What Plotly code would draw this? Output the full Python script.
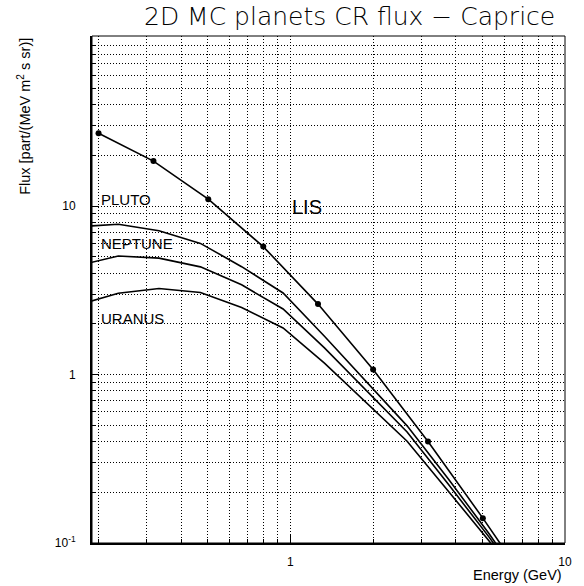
import plotly.graph_objects as go

# ---- data ----
energy_lis = [0.2, 0.317, 0.502, 0.796, 1.26, 2.0, 3.17, 5.02, 7.96]
flux_lis = [27.1, 18.5, 11.0, 5.75, 2.62, 1.07, 0.401, 0.1405, 0.047]

energy_planet = [0.167, 0.236, 0.332, 0.47, 0.664, 0.94, 1.33, 1.88, 2.66, 3.76, 5.3, 7.5]
flux_pluto = [7.53, 7.81, 7.15, 6.01, 4.37, 3.05, 1.69, 0.918, 0.496, 0.240, 0.113, 0.050]
flux_neptune = [4.42, 5.06, 4.91, 4.36, 3.41, 2.45, 1.44, 0.812, 0.456, 0.223, 0.108, 0.0486]
flux_uranus = [2.58, 3.04, 3.24, 3.07, 2.50, 1.89, 1.17, 0.689, 0.402, 0.203, 0.1025, 0.047]

curve_labels = ["PLUTO", "NEPTUNE", "URANUS", "LIS"]
title_text = "2D MC planets CR flux \u2212 Caprice"
x_title = "Energy (GeV)"
y_title = "Flux [part/(MeV m<sup>2</sup> s sr)]"

y_major = [0.1, 1, 10]
y_major_text = ["10<sup>-1</sup>", "1", "10"]
x_major = [1, 10]
x_major_text = ["1", "10"]
minor_vals = [m * d for d in (0.1, 1, 10) for m in range(2, 10)]

# ---- geometry ----
W, H = 584, 586
L, R, T, B = 92, 567.5, 36, 543.3
pw, ph = R - L, B - T


def px(xp):
    return (xp - L) / pw


def py(yp):
    return (B - yp) / ph


fig = go.Figure()
for yv in (flux_pluto, flux_neptune, flux_uranus):
    fig.add_trace(go.Scatter(x=energy_planet, y=yv, mode="lines",
                             line=dict(color="black", width=1.6),
                             showlegend=False, hoverinfo="skip"))
fig.add_trace(go.Scatter(x=energy_lis, y=flux_lis, mode="lines+markers",
                         line=dict(color="black", width=1.6),
                         marker=dict(color="black", size=6),
                         showlegend=False, hoverinfo="skip"))

DOT = "1px,2px"
axis_common = dict(
    type="log", showline=True, linecolor="black", linewidth=2,
    ticks="inside", tickcolor="black", tickwidth=1,
    showgrid=True, gridcolor="black", gridwidth=1, griddash=DOT,
    zeroline=False, tickmode="array",
    tickfont=dict(family="Liberation Sans, Arial, sans-serif", size=12, color="black"),
    minor=dict(tickmode="array", tickvals=minor_vals, ticks="inside", ticklen=4,
               tickcolor="black", showgrid=True, gridcolor="black",
               gridwidth=1, griddash=DOT),
)

fig.update_xaxes(**axis_common, range=[-0.7228, 1.0], tickvals=x_major,
                 ticktext=x_major_text, ticklen=9, ticklabelstandoff=7)
fig.update_yaxes(**axis_common, range=[-1.0, 2.01], tickvals=y_major,
                 ticktext=y_major_text, ticklen=7, ticklabelstandoff=12)

fig.add_shape(type="rect", xref="paper", yref="paper", x0=0, y0=0, x1=1, y1=1,
              line=dict(color="black", width=1), layer="above")

lab_font = dict(family="Liberation Sans, Arial, sans-serif", size=15, color="black")
ann = [
    dict(text=curve_labels[0], x=px(99), y=py(199.3), font=lab_font),
    dict(text=curve_labels[1], x=px(99.5), y=py(243.3), font=lab_font),
    dict(text=curve_labels[2], x=px(99), y=py(318.3), font=lab_font),
    dict(text=curve_labels[3], x=px(291), y=py(206.7),
         font=dict(family="Liberation Sans, Arial, sans-serif", size=20, color="black")),
]
for a in ann:
    fig.add_annotation(xref="paper", yref="paper", xanchor="left", yanchor="middle",
                       showarrow=False, **a)

fig.add_annotation(text=title_text, xref="paper", yref="paper", x=px(559), y=py(16.5),
                   xanchor="right", yanchor="middle", showarrow=False,
                   font=dict(family="DejaVu Sans, sans-serif", size=25, color="black",
                             weight=300))
fig.add_annotation(text=x_title, xref="paper", yref="paper", x=px(566), y=py(575),
                   xanchor="right", yanchor="middle", showarrow=False,
                   font=dict(family="Liberation Sans, Arial, sans-serif", size=14.5, color="black"))
fig.add_annotation(text=y_title, xref="paper", yref="paper", x=px(23), y=py(36),
                   xanchor="center", yanchor="top", textangle=-90, showarrow=False,
                   font=dict(family="Liberation Sans, Arial, sans-serif", size=14.5, color="black"))

fig.update_layout(width=W, height=H, margin=dict(l=L, r=W - R, t=T, b=H - B),
                  paper_bgcolor="white", plot_bgcolor="white", showlegend=False)

fig.write_html("out.html")
